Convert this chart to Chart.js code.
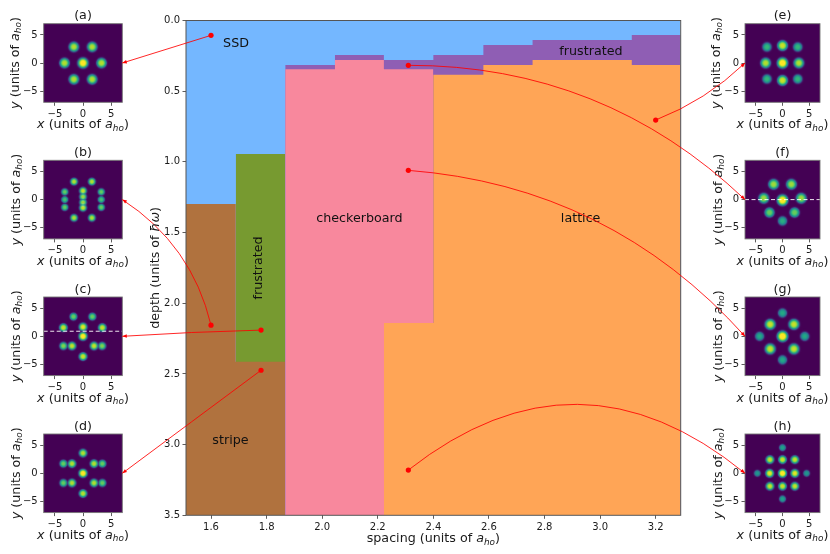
<!DOCTYPE html>
<html>
<head>
<meta charset="utf-8">
<script src="https://cdn.jsdelivr.net/npm/chart.js@4"></script>
<style>
html,body{margin:0;padding:0;background:#fff;width:830px;height:554px;overflow:hidden}
canvas{position:absolute;display:block}
</style>
</head>
<body>
<script>
// ---------- main phase diagram data ----------
const spacingTicks = [1.6,1.8,2.0,2.2,2.4,2.6,2.8,3.0,3.2];
const depthTicks = [0,0.5,1,1.5,2,2.5,3,3.5];
const ssdSpacing = [1.51,3.29];
const ssdDepth = [0,0];
const greenSpacing = [1.689,1.867];
const greenDepth = [0.944,0.944];
const stripeSpacing = [1.51,1.689,1.867];
const stripeDepth = [1.298,2.413,2.413];
const frustratedSpacing = [1.867,2.046,2.222,2.40,2.58,2.757,3.114,3.29];
const frustratedDepth = [0.315,0.244,0.279,0.244,0.173,0.138,0.103,0.103];
const checkerSpacing = [1.867,2.046,2.222,2.40];
const checkerDepth = [0.345,0.279,0.345,0.345];
const latticeSpacing = [2.222,2.40,2.58,2.757,3.114,3.29];
const latticeDepth = [2.14,0.383,0.315,0.279,0.315,0.315];

const phaseNames = ['SSD','frustrated','checkerboard','lattice','stripe','frustrated'];
const phaseNameSpacing = [1.69,2.967,2.134,2.93,1.67,1.77];
const phaseNameDepth = [0.166,0.22,1.40,1.40,2.97,1.75];
const phaseNameAngle = [0,0,0,0,0,90];

const panelLetters = ['a','b','c','d','e','f','g','h'];
const sampleSpacing = [1.6,1.6,1.78,1.78,3.2,2.31,2.31,2.31];
const sampleDepth = [0.105,2.155,2.19,2.474,0.704,0.317,1.06,3.18];
const connectorBend = [0,-0.2,-0.01,0,-0.1,0.2,0.2,0.4];

// ---------- inset density peaks ----------
const insetTicks = [-5,0,5];
const peaksX = {
 a:[0,-3.3,3.3,-1.63,1.63,-1.63,1.63],
 b:[-1.6,1.58,-1.6,1.58,-3.25,-3.25,-3.25,0,0,0,0,3.25,3.25,3.25],
 c:[-1.7,1.66,-3.5,3.44,0,0,-3.5,-1.96,1.96,3.4,0],
 d:[0,-3.5,-1.96,1.96,3.45,0,-3.5,-1.96,1.96,3.45,0],
 e:[-2.9,0,2.85,-3.15,0,3.05,-2.9,0,2.85],
 f:[-1.66,1.66,-3.5,3.5,0,-2.43,2.25,0],
 g:[0,-2.3,2.13,-4.27,0,4.15,-2.3,2.13,0],
 h:[0,-2.35,0,2.3,-4.7,-2.4,0,2.3,4.5,-2.35,0,2.3,0]
};
const peaksY = {
 a:[0,0,0,2.87,2.87,-2.9,-2.9],
 b:[3.2,3.2,-3.25,-3.25,1.37,0,-1.37,1.55,0.5,-0.5,-1.45,1.37,0,-1.37],
 c:[3.5,3.5,1.54,1.54,1.66,0,-1.72,-1.72,-1.72,-1.72,-3.6],
 d:[3.6,1.72,1.72,1.72,1.72,0,-1.72,-1.72,-1.72,-1.72,-3.6],
 e:[2.85,3.1,2.85,0,0,0,-2.85,-3.1,-2.85],
 f:[2.73,2.73,0.24,0.24,-0.1,-2.3,-2.3,-3.8],
 g:[4.15,2.13,2.13,0,0,0,-2.25,-2.25,-4.2],
 h:[4.57,2.43,2.43,2.43,0,0,0,0,0,-2.3,-2.3,-2.3,-4.57]
};
const peaksLevel = {
 a:[1,0.9,0.9,0.9,0.9,0.9,0.9],
 b:[0.9,0.9,0.9,0.9,0.82,0.78,0.82,0.92,0.88,0.88,0.92,0.82,0.78,0.82],
 c:[0.82,0.82,0.92,0.92,0.95,1,0.85,0.92,0.92,0.85,0.92],
 d:[0.9,0.82,0.9,0.9,0.82,1,0.82,0.9,0.9,0.82,0.9],
 e:[0.75,0.92,0.75,0.9,1,0.9,0.75,0.92,0.75],
 f:[0.88,0.88,0.88,0.88,1,0.82,0.82,0.72],
 g:[0.7,0.92,0.92,0.7,1,0.7,0.92,0.92,0.7],
 h:[0.68,0.92,0.92,0.92,0.65,0.95,1,0.95,0.65,0.92,0.92,0.92,0.68]
};
const peaksCutY = {c:0.9,f:0};

// ---------- style ----------
const FONT = '"DejaVu Sans"';
const INK = '#1a1a1a';
const panelSharp = {a:4.2,b:3.1,c:3.4,d:3.4,e:4.3,f:4.4,g:4.4,h:3.4};
const panelBox = {
 a:[43.7,23.7],b:[43.7,160.3],c:[43.7,297],d:[43.7,434],
 e:[745,23.7],f:[745,160.3],g:[745,297],h:[745,434]
};
const panelYLabelX = {a:14,b:15.5,c:15,d:15.5,e:715,f:717,g:717,h:717};
const PANEL_SIZE = 78.6;
const MAIN = {left:186,top:20.5,right:680.7,bottom:515.3};

const VIRIDIS = [[68,1,84],[72,40,120],[62,74,137],[49,104,142],[38,130,142],[31,158,137],[53,183,121],[110,206,88],[181,222,43],[253,231,37]];
function viridis(v){
  const t = Math.max(0,Math.min(1,v))*(VIRIDIS.length-1), i = Math.min(VIRIDIS.length-2,Math.floor(t)), f = t-i;
  return VIRIDIS[i].map((c,k)=>c+(VIRIDIS[i+1][k]-c)*f);
}
const spriteCache = {};
function blobSprite(level,sigma){
  const key = level+'_'+sigma;
  if(spriteCache[key]) return spriteCache[key];
  const r = Math.ceil(sigma*2.1), c = document.createElement('canvas');
  c.width = c.height = 2*r+1;
  const g = c.getContext('2d'), im = g.createImageData(c.width,c.height);
  const peak = 1.05*Math.pow(level,1.6);
  for(let y=0;y<c.height;y++) for(let x=0;x<c.width;x++){
    const d = Math.hypot(x-r,y-r), v = peak*Math.exp(-0.5*Math.pow(d/sigma,3.4)), col = viridis(v), o = (y*c.width+x)*4;
    im.data[o]=col[0]; im.data[o+1]=col[1]; im.data[o+2]=col[2]; im.data[o+3]=Math.round(255*Math.min(1,v/0.3));
  }
  g.putImageData(im,0,0);
  return spriteCache[key]=c;
}

function runsText(ctx,runs,size){
  const widths = runs.map(r=>{
    const s = r.sub?size*0.7:size;
    ctx.font = (r.it?'oblique ':'')+s+'px '+FONT;
    return ctx.measureText(r.t).width;
  });
  let x = -widths.reduce((a,b)=>a+b,0)/2;
  ctx.textAlign='left'; ctx.textBaseline='alphabetic';
  runs.forEach((r,i)=>{
    const s = r.sub?size*0.7:size;
    ctx.font = (r.it?'oblique ':'')+s+'px '+FONT;
    ctx.fillText(r.t,x,r.sub?size*0.18:0);
    x+=widths[i];
  });
}
function drawLabel(ctx,x,y,runs,rot){
  ctx.save();
  ctx.translate(x,y);
  if(rot) ctx.rotate(-Math.PI/2);
  ctx.fillStyle=INK;
  runsText(ctx,runs,12.7);
  ctx.restore();
}
const unitRuns = [{t:'units of '},{t:'a',it:1},{t:'ho',it:1,sub:1},{t:')'}];

function baseScale(min,max,ticks,fmt,reverse,axisSize,prop){
  return {
    type:'linear',min,max,reverse:!!reverse,
    grid:{display:true,drawOnChartArea:false,drawTicks:true,tickLength:3.5,tickWidth:0.8,tickColor:'#333'},
    border:{display:false},
    ticks:{autoSkip:false,maxRotation:0,minRotation:0,padding:2.5,color:'#1a1a1a',font:{family:FONT,size:10},callback:fmt},
    afterBuildTicks:a=>{a.ticks=ticks.map(v=>({value:v}));},
    afterFit:a=>{a[prop]=axisSize;}
  };
}
const minusFmt = v=>String(v).replace('-','\u2212');

// ---------- insets ----------
const insetCharts = {};
panelLetters.forEach(p=>{
  const [px,py] = panelBox[p];
  const cLeft = px<100?0:690, cTop = Math.floor(py)-24, cW = px<100?160:140, cH = 150;
  const cv = document.createElement('canvas');
  cv.style.left=cLeft+'px'; cv.style.top=cTop+'px';
  cv.width=cW; cv.height=cH;
  cv.style.width=cW+'px'; cv.style.height=cH+'px';
  cv.style.zIndex=1;
  document.body.appendChild(cv);
  const blobData = peaksX[p].map((x,i)=>({x,y:peaksY[p][i]}));
  const datasets = [];
  if(peaksCutY[p]!==undefined){
    datasets.push({data:[{x:-7,y:peaksCutY[p]},{x:7,y:peaksCutY[p]}],borderColor:'rgba(255,255,255,0.9)',borderWidth:1,borderDash:[4,2.5],pointRadius:0,showLine:true,fill:false});
  }
  const blobIndex = datasets.length;
  datasets.push({
    data:blobData,showLine:false,pointRadius:10,pointBorderWidth:0,
    pointStyle:c=>{
      const lvl = c.dataIndex===undefined?1:peaksLevel[p][c.dataIndex];
      return blobSprite(lvl,panelSharp[p]*(0.5+0.5*lvl));
    }
  });
  const titleH = 12.7*1.2;
  insetCharts[p] = {left:cLeft,top:cTop,chart:new Chart(cv,{
    type:'scatter',
    data:{datasets},
    options:{
      responsive:false,animation:false,events:[],devicePixelRatio:1,
      layout:{padding:{left:0,top:py-cTop-titleH,right:cW-(px-cLeft)-PANEL_SIZE,bottom:cH-(py-cTop)-PANEL_SIZE-34}},
      plugins:{
        legend:{display:false},tooltip:{enabled:false},
        title:{display:true,text:'('+p+')',fullSize:false,color:INK,font:{family:FONT,size:12.7,weight:'normal',lineHeight:1.2},padding:{top:0,bottom:0}}
      },
      scales:{
        x:baseScale(-7,7,insetTicks,minusFmt,false,34,'height'),
        y:baseScale(-7,7,insetTicks,minusFmt,false,px-cLeft,'width')
      }
    },
    plugins:[{
      id:'insetDecor',
      beforeDatasetDraw(ch,args){ if(args.index===blobIndex) ch.ctx.globalCompositeOperation='lighten'; },
      afterDatasetDraw(ch,args){
        if(args.index!==blobIndex) return;
        const a=ch.chartArea,c=ch.ctx;
        c.save();
        c.globalCompositeOperation='destination-over';
        c.fillStyle='rgb(68,1,84)';c.fillRect(a.left,a.top,a.width,a.height);
        c.restore();
        c.globalCompositeOperation='source-over';
      },
      afterDraw(ch){
        const a=ch.chartArea,c=ch.ctx;
        c.save();c.strokeStyle='#777';c.lineWidth=0.9;c.strokeRect(a.left,a.top,a.width,a.height);c.restore();
        drawLabel(c,(a.left+a.right)/2,a.bottom+26,[{t:'x',it:1},{t:' ('},...unitRuns]);
        drawLabel(c,panelYLabelX[p]+4.5-cLeft,(a.top+a.bottom)/2,[{t:'y',it:1},{t:' ('},...unitRuns],true);
      }
    }]
  })};
});

// ---------- main chart ----------
const pts = (xs,ys)=>xs.map((x,i)=>({x,y:ys[i]}));
function region(xs,ys,color){
  return {data:pts(xs,ys),stepped:'before',borderWidth:0,pointRadius:0,backgroundColor:color,borderColor:color,fill:{value:3.5}};
}
const mainCanvas = document.createElement('canvas');
mainCanvas.width=830;mainCanvas.height=554;
mainCanvas.style.cssText='left:0;top:0;width:830px;height:554px;z-index:2';
document.body.appendChild(mainCanvas);

new Chart(mainCanvas,{
  type:'line',
  data:{datasets:[
    {data:pts(sampleSpacing,sampleDepth),showLine:false,pointRadius:2.6,pointBackgroundColor:'#f00',pointBorderWidth:0,fill:false},
    region(latticeSpacing,latticeDepth,'rgb(255,165,86)'),
    region(checkerSpacing,checkerDepth,'rgb(248,136,157)'),
    region(frustratedSpacing,frustratedDepth,'rgb(143,94,180)'),
    region(stripeSpacing,stripeDepth,'rgb(176,114,62)'),
    region(greenSpacing,greenDepth,'rgb(119,154,48)'),
    region(ssdSpacing,ssdDepth,'rgb(116,183,255)')
  ]},
  options:{
    responsive:false,animation:false,events:[],devicePixelRatio:1,
    layout:{padding:{left:0,top:MAIN.top,right:830-MAIN.right,bottom:0}},
    plugins:{legend:{display:false},tooltip:{enabled:false}},
    scales:{
      x:baseScale(1.51,3.29,spacingTicks,v=>v.toFixed(1),false,554-MAIN.bottom,'height'),
      y:baseScale(0,3.5,depthTicks,v=>v.toFixed(1),true,MAIN.left,'width')
    }
  },
  plugins:[{
    id:'mainDecor',
    afterDatasetsDraw(ch){
      const c=ch.ctx,a=ch.chartArea,X=ch.scales.x,Y=ch.scales.y;
      c.save();
      c.strokeStyle='#555';c.lineWidth=1;c.strokeRect(a.left,a.top,a.width,a.height);
      phaseNames.forEach((n,i)=>{
        drawNamed(c,X.getPixelForValue(phaseNameSpacing[i]),Y.getPixelForValue(phaseNameDepth[i]),n,phaseNameAngle[i]);
      });
      panelLetters.forEach((p,i)=>{
        const ins=insetCharts[p],sx=ins.chart.scales.x,sy=ins.chart.scales.y,onLeft=panelBox[p][0]<100;
        const x0=X.getPixelForValue(sampleSpacing[i]),y0=Y.getPixelForValue(sampleDepth[i]);
        const x1=ins.left+sx.getPixelForValue(onLeft?7:-7),y1=ins.top+sy.getPixelForValue(0);
        const dx=x1-x0,dy=y1-y0,b=connectorBend[i];
        const cx=(x0+x1)/2+b*dy,cy=(y0+y1)/2-b*dx;
        c.strokeStyle='rgba(255,0,0,0.85)';c.lineWidth=1;
        c.beginPath();c.moveTo(x0,y0);c.quadraticCurveTo(cx,cy,x1,y1);c.stroke();
        const ang=Math.atan2(y1-cy,x1-cx),L=4.5,W=1.8;
        c.fillStyle='#f00';c.beginPath();c.moveTo(x1,y1);
        c.lineTo(x1-L*Math.cos(ang)+W*Math.sin(ang),y1-L*Math.sin(ang)-W*Math.cos(ang));
        c.lineTo(x1-L*Math.cos(ang)-W*Math.sin(ang),y1-L*Math.sin(ang)+W*Math.cos(ang));
        c.closePath();c.fill();
      });
      c.restore();
    },
    afterDraw(ch){
      const c=ch.ctx,a=ch.chartArea;
      drawLabel(c,(a.left+a.right)/2,a.bottom+27,[{t:'spacing ('},...unitRuns]);
      drawLabel(c,159,(a.top+a.bottom)/2,[{t:'depth (units of '},{t:'\u0127\u03c9',it:1},{t:')'}],true);
    }
  }]
});
function drawNamed(c,x,y,text,angle){
  c.save();c.translate(x,y);c.rotate(-angle*Math.PI/180);
  c.fillStyle='#111';c.font='12.7px '+FONT;c.textAlign='center';c.textBaseline='middle';
  c.fillText(text,0,0);c.restore();
}
</script>
</body>
</html>
